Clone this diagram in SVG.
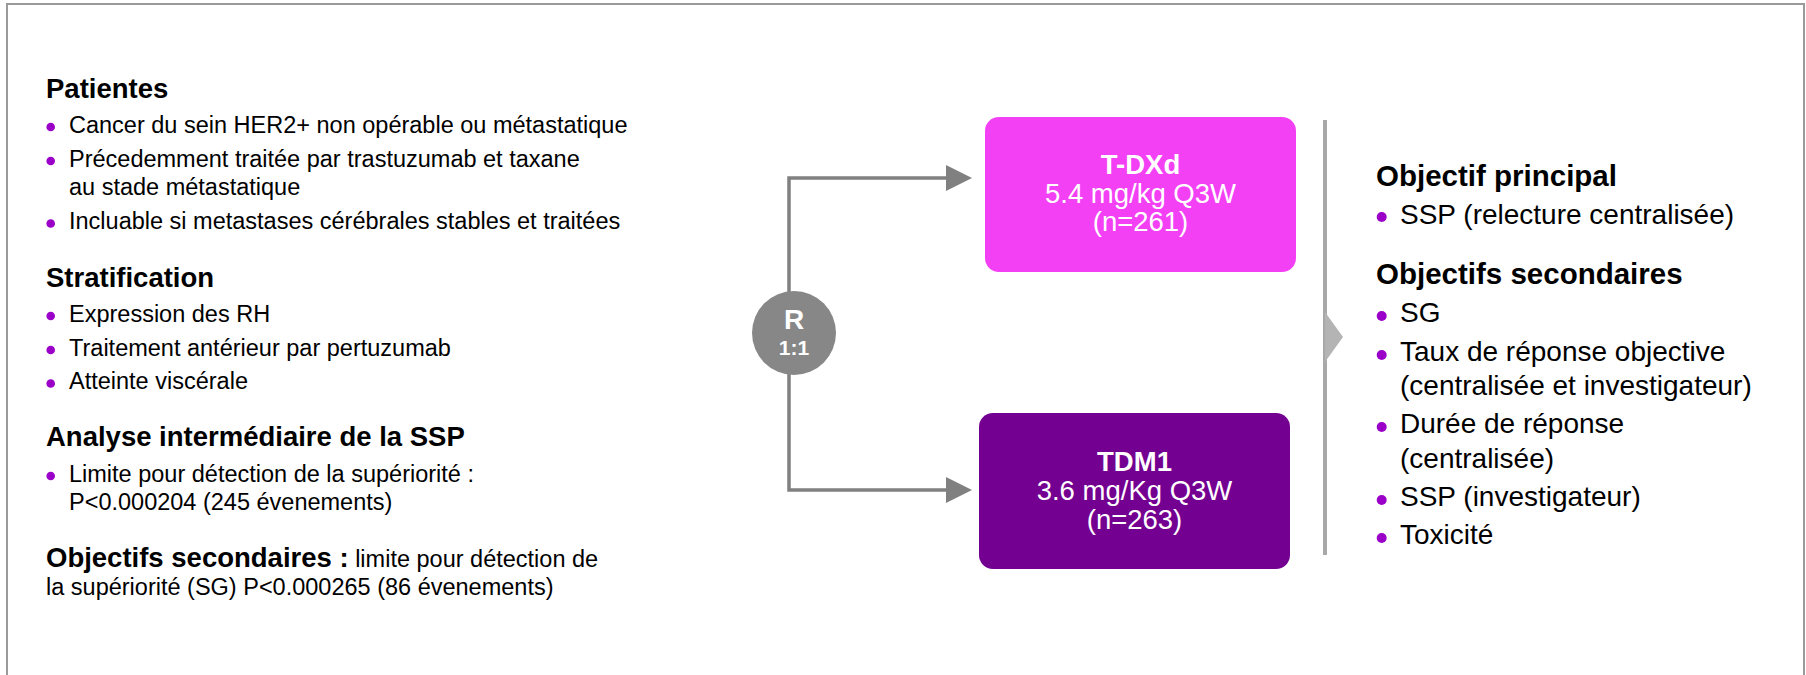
<svg xmlns="http://www.w3.org/2000/svg" width="1806" height="675" viewBox="0 0 1806 675">
<style>
text{font-family:"Liberation Sans",Arial,sans-serif;fill:#000}
.h{font-weight:bold;font-size:27.5px}
.t{font-size:23.5px}
.rh{font-weight:bold;font-size:29.5px}
.rt{font-size:28px}
.bx{font-size:27.5px;fill:#fff;text-anchor:middle}
.bxb{font-weight:bold}
.bul{fill:#9a00c8}
.conn{fill:none;stroke:#808080;stroke-width:3.5}
.head{fill:#808080}
</style>
<rect x="7" y="4" width="1797" height="720" fill="#fff" stroke="#9a9a9a" stroke-width="2"/>

<g id="connectors">
<path class="conn" d="M789,300 V178 H948"/>
<polygon class="head" points="946,165 972,178 946,191"/>
<path class="conn" d="M789,366 V490 H948"/>
<polygon class="head" points="946,477 972,490 946,503"/>
</g>

<g id="left-text">
<text class="h" x="46" y="97.5">Patientes</text>
<circle class="bul" cx="50.7" cy="127" r="4.3"/>
<text class="t" x="69" y="132.5">Cancer du sein HER2+ non opérable ou métastatique</text>
<circle class="bul" cx="50.7" cy="161" r="4.3"/>
<text class="t" x="69" y="166.5">Précedemment traitée par trastuzumab et taxane</text>
<text class="t" x="69" y="195">au stade métastatique</text>
<circle class="bul" cx="50.7" cy="223.5" r="4.3"/>
<text class="t" x="69" y="229">Incluable si metastases cérébrales stables et traitées</text>

<text class="h" x="46" y="286.5">Stratification</text>
<circle class="bul" cx="50.7" cy="316" r="4.3"/>
<text class="t" x="69" y="321.5">Expression des RH</text>
<circle class="bul" cx="50.7" cy="350" r="4.3"/>
<text class="t" x="69" y="355.5">Traitement antérieur par pertuzumab</text>
<circle class="bul" cx="50.7" cy="383.5" r="4.3"/>
<text class="t" x="69" y="389">Atteinte viscérale</text>

<text class="h" x="46" y="446">Analyse intermédiaire de la SSP</text>
<circle class="bul" cx="50.7" cy="476" r="4.3"/>
<text class="t" x="69" y="481.5">Limite pour détection de la supériorité :</text>
<text class="t" x="69" y="510">P&lt;0.000204 (245 évenements)</text>

<text x="46" y="566.5"><tspan class="h">Objectifs secondaires :</tspan><tspan class="t"> limite pour détection de</tspan></text>
<text class="t" x="46" y="595">la supériorité (SG) P&lt;0.000265 (86 évenements)</text>
</g>

<g id="node-tdxd">
<rect x="985" y="117" width="311" height="155" rx="14" fill="#f340f5"/>
<text class="bx bxb" x="1140.5" y="174">T-DXd</text>
<text class="bx" x="1140.5" y="203">5.4 mg/kg Q3W</text>
<text class="bx" x="1140.5" y="231">(n=261)</text>
</g>

<g id="node-tdm1">
<rect x="979" y="413" width="311" height="156" rx="14" fill="#740091"/>
<text class="bx bxb" x="1134.5" y="471">TDM1</text>
<text class="bx" x="1134.5" y="500">3.6 mg/Kg Q3W</text>
<text class="bx" x="1134.5" y="529">(n=263)</text>
</g>

<g id="node-random">
<circle cx="794" cy="333" r="42" fill="#878787"/>
<text x="794" y="329" text-anchor="middle" font-weight="bold" font-size="28" style="fill:#fff">R</text>
<text x="794" y="355" text-anchor="middle" font-weight="bold" font-size="21" style="fill:#fff">1:1</text>
</g>

<g id="objectives">
<rect x="1323" y="120" width="4" height="435" fill="#a8a8a8"/>
<polygon points="1325,312 1343,337 1325,362" fill="#b4b4b4"/>
<text class="rh" x="1376" y="185.5">Objectif principal</text>
<circle class="bul" cx="1381.7" cy="217" r="5"/>
<text class="rt" x="1400" y="223.5">SSP (relecture centralisée)</text>
<text class="rh" x="1376" y="284">Objectifs secondaires</text>
<circle class="bul" cx="1381.7" cy="316" r="5"/>
<text class="rt" x="1400" y="322">SG</text>
<circle class="bul" cx="1381.7" cy="355" r="5"/>
<text class="rt" x="1400" y="361">Taux de réponse objective</text>
<text class="rt" x="1400" y="395">(centralisée et investigateur)</text>
<circle class="bul" cx="1381.7" cy="427" r="5"/>
<text class="rt" x="1400" y="433">Durée de réponse</text>
<text class="rt" x="1400" y="468">(centralisée)</text>
<circle class="bul" cx="1381.7" cy="500" r="5"/>
<text class="rt" x="1400" y="506">SSP (investigateur)</text>
<circle class="bul" cx="1381.7" cy="538" r="5"/>
<text class="rt" x="1400" y="544">Toxicité</text>
</g>
</svg>
